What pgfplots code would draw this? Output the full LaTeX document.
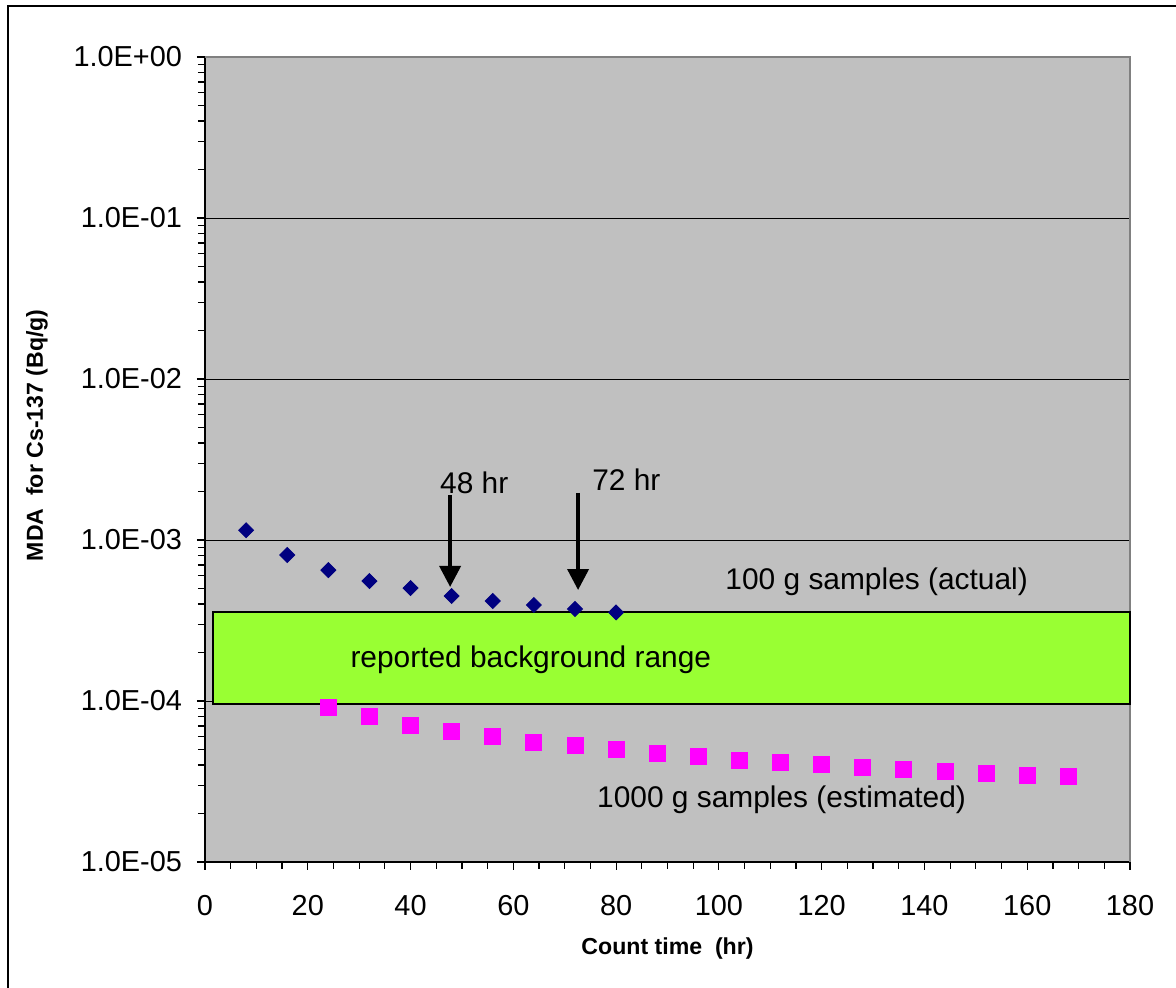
\documentclass[border=0pt]{standalone}
\usepackage{fontspec}
\setmainfont{Liberation Sans}
\usepackage{pgfplots}
\pgfplotsset{compat=1.18}
\usetikzlibrary{arrows.meta}

\definecolor{plotgray}{RGB}{192,192,192}
\definecolor{edgegray}{RGB}{128,128,128}
\definecolor{navyb}{RGB}{0,0,128}
\definecolor{mag}{RGB}{255,0,255}
\definecolor{bggreen}{RGB}{153,255,51}

\begin{document}
\begin{tikzpicture}
\path[use as bounding box] (0,0) rectangle (588bp,494bp);
\draw[line width=1bp] (4bp,-20bp) -- (4bp,491bp) -- (600bp,491bp);
\begin{axis}[
    at={(102.5bp,63bp)}, anchor=south west,
    scale only axis,
    width=462.5bp, height=402.5bp,
    xmin=0, xmax=180,
    ymode=log, ymin=1e-5, ymax=1,
    xtick={0,20,...,180},
    minor x tick num=3,
    ytick={1e-5,1e-4,1e-3,1e-2,1e-1,1},
    yticklabels={1.0E-05,1.0E-04,1.0E-03,1.0E-02,1.0E-01,1.0E+00},
    axis lines*=left,
    axis line style={-, black, line width=0.8bp},
    tick align=outside,
    major tick length=4bp, minor tick length=3.5bp,
    every tick/.style={black, line width=0.6bp},
    ymajorgrids,
    major grid style={black, line width=0.5bp},
    axis background/.style={fill=plotgray},
    /pgf/number format/assume math mode=true,
    ticklabel style={font=\fontsize{14.5}{16}\selectfont},
    yticklabel style={xshift=-4bp},
    xticklabel style={yshift=-9bp},
    xlabel={Count time \ (hr)},
    ylabel={MDA \ for Cs-137 (Bq/g)},
    xlabel style={font=\bfseries\fontsize{11.6}{13}\selectfont, at={(axis description cs:0.5,-0.107)}, anchor=center},
    ylabel style={font=\bfseries\fontsize{11.6}{13}\selectfont, at={(axis description cs:-0.1816,0.53)}, anchor=center, rotate=0},
    clip=false,
]
\draw[edgegray, line width=1.2bp] (rel axis cs:0,1) -- (rel axis cs:1,1) -- (rel axis cs:1,0);

\addplot[only marks, mark=square*, mark size=2.65bp, mark options={rotate=45, fill=navyb, draw=navyb}] coordinates {
    (8,1.15e-3) (16,8.07e-4) (24,6.5e-4) (32,5.56e-4) (40,5.03e-4)
    (48,4.49e-4) (56,4.18e-4) (64,3.95e-4) (72,3.73e-4) (80,3.55e-4)
};
\addplot[only marks, mark=square*, mark size=4bp, mark options={fill=mag, draw=mag}] coordinates {
    (24,9.18e-5) (32,8.07e-5) (40,7.1e-5) (48,6.5e-5) (56,6.06e-5)
    (64,5.56e-5) (72,5.33e-5) (80,5.03e-5) (88,4.75e-5) (96,4.55e-5)
    (104,4.3e-5) (112,4.18e-5) (120,4.06e-5) (128,3.89e-5) (136,3.78e-5)
    (144,3.67e-5) (152,3.57e-5) (160,3.47e-5) (168,3.42e-5)
};

\draw[fill=bggreen, draw=black, line width=1bp] (axis cs:1.5,9.6e-5) rectangle (axis cs:180,3.57e-4);

\draw[line width=1.9bp, -{Triangle[width=10.5bp,length=10.5bp]}] (axis cs:47.7,1.90e-3) -- (axis cs:47.7,5.11e-4);
\draw[line width=1.9bp, -{Triangle[width=10.5bp,length=10.5bp]}] (axis cs:72.6,1.96e-3) -- (axis cs:72.6,4.89e-4);

\begin{scope}[every node/.style={font=\fontsize{15}{17}\selectfont, inner sep=0pt}]
\node at (axis cs:52.4,2.26e-3) {48 hr};
\node at (axis cs:82.0,2.36e-3) {72 hr};
\node at (axis cs:130.7,5.49e-4) {100 g samples (actual)};
\node at (axis cs:63.4,1.80e-4) {reported background range};
\node at (axis cs:112.2,2.43e-5) {1000 g samples (estimated)};
\end{scope}
\end{axis}
\end{tikzpicture}
\end{document}
